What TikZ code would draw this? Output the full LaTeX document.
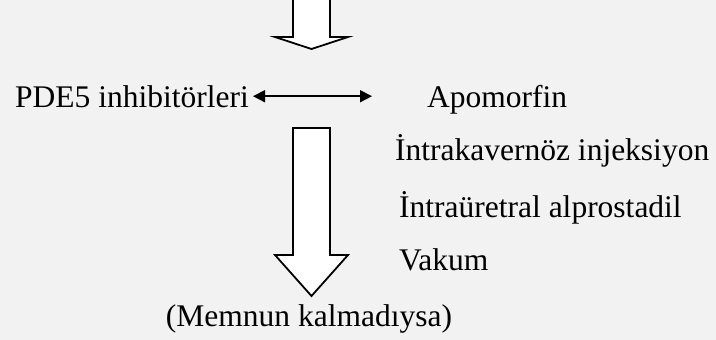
\documentclass[tikz,border=0pt]{standalone}
\usepackage{fontspec}
\setmainfont{Liberation Serif}
\usetikzlibrary{arrows.meta,positioning}
\definecolor{pagegray}{HTML}{F2F2F2}
\tikzstyle{entry}    = [inner sep=0pt, anchor=base west, font=\fontsize{31.5}{36}\selectfont]
\tikzstyle{bigarrow} = [draw=black, fill=white, line width=1.8pt, line join=miter]
\tikzstyle{both}     = [line width=1.6pt, {Triangle[length=12pt,width=12pt]}-{Triangle[length=12pt,width=12pt]}]

\begin{document}
\begin{tikzpicture}[x=1pt,y=-1pt]
		\fill[pagegray] (0,0) rectangle (716,340);
		\useasboundingbox (0,0) rectangle (716,340);
		% arrow coming in from above
		\filldraw[bigarrow] (293,0) -- (293,37) -- (275,37) -- (311.5,49) -- (348,37) -- (330,37) -- (330,0);
		\node[entry] (pde) at (15,107) {PDE5 inhibitörleri};
		\node[entry] (apo) at (427,107) {Apomorfin};
		\node[entry] (ick) at (395,160) {İntrakavernöz injeksiyon};
		\node[entry] (iua) at (399,217) {İntraüretral alprostadil};
		\node[entry] (vak) at (399,270) {Vakum};
		\node[entry,anchor=base] (mem) at (309,326) {(Memnun kalmadıysa)};
		\draw[both,shorten <=4pt,shorten >=55pt] (pde.east) -- (pde.east -| apo.west);
		% big arrow down to the last line
		\filldraw[bigarrow] (293,128) -- (330,128) -- (330,255) -- (348,255) -- (311.5,296) -- (275,255) -- (293,255) -- cycle;
	\end{tikzpicture}
\end{document}
